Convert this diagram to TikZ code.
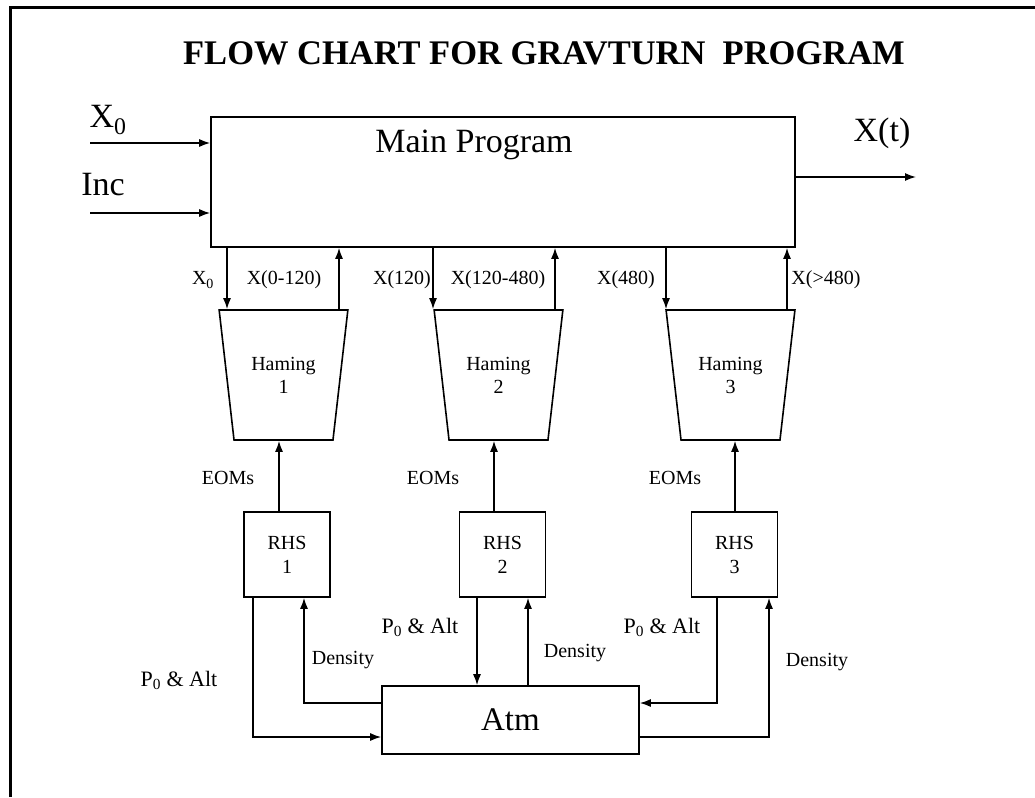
\documentclass[tikz,border=0pt]{standalone}
\usepackage{fontspec}
\setmainfont{Liberation Serif}
\usetikzlibrary{arrows.meta,positioning,shapes.geometric,calc}
\newcommand{\fs}[2]{\fontsize{#1}{#2}\selectfont}
\tikzset{blk/.style={draw,line width=1.6pt,inner sep=0pt},
 ham/.style={draw,line width=1.6pt,trapezium,trapezium angle=76,shape border rotate=180,trapezium stretches=true,minimum width=129pt,minimum height=130pt,align=center,font=\fs{20}{23}},
 rhs/.style={blk,minimum width=86pt,minimum height=85pt,align=center,font=\fs{20}{24}},
 flow/.style={-{Latex[length=11pt,width=8pt]},line width=1.5pt},
 big/.style={font=\fs{34}{40}},sm/.style={font=\fs{20}{24}},lab/.style={font=\fs{22}{26}}}

\begin{document}
\begin{tikzpicture}[x=1pt,y=-1pt]
\useasboundingbox (0,0) rectangle (1035,797);
\draw[line width=3pt] (10,797) -- (10,8) -- (1035,8);
\node[font=\bfseries\fs{34.5}{40}] (title) at (544,53) {FLOW CHART FOR GRAVTURN\ \ PROGRAM};
\node[blk,minimum width=584pt,minimum height=130pt] (main) at (503,182) {};
\node[big] (mainlbl) at (474,145) {Main Program};
\coordinate (x0in) at (90,143);\coordinate (incin) at (90,213);\coordinate (xout) at (916,177);
\node[big] (x0lbl) at (108,120) {X\textsubscript{0}};
\node[big] (inclbl) at (103,185) {Inc};
\node[big] (xtlbl) at (882,133) {X(t)};
\draw[flow] (x0in) -- (main.west |- x0in);
\draw[flow] (incin) -- (main.west |- incin);
\draw[flow] (main.east |- xout) -- (xout);
\node[ham] (ham1) at (283.5,375) {Haming\\1};
\node[ham] (ham2) at (498.5,375) {Haming\\2};
\node[ham] (ham3) at (730.5,375) {Haming\\3};
\draw[flow] (main.south -| 227,0) -- (ham1.north -| 227,0);
\draw[flow] (ham1.north -| 339,0) -- (main.south -| 339,0);
\draw[flow] (main.south -| 433,0) -- (ham2.north -| 433,0);
\draw[flow] (ham2.north -| 555,0) -- (main.south -| 555,0);
\draw[flow] (main.south -| 666,0) -- (ham3.north -| 666,0);
\draw[flow] (ham3.north -| 787,0) -- (main.south -| 787,0);
\node[sm] (lx0) at (203,280) {X\textsubscript{0}};
\node[sm] (lx1) at (284,280) {X(0-120)};
\node[sm] (lx2) at (402,280) {X(120)};
\node[sm] (lx3) at (498,280) {X(120-480)};
\node[sm] (lx4) at (626,280) {X(480)};
\node[sm] (lx5) at (826,280) {X(>480)};
\node[rhs] (rhs1) at (287,554.5) {RHS\\1};
\node[rhs] (rhs2) at (502.5,554.5) {RHS\\2};
\node[rhs] (rhs3) at (734.5,554.5) {RHS\\3};
\draw[flow] (rhs1.north -| 279,0) -- (ham1.south -| 279,0);
\draw[flow] (rhs2.north -| 494,0) -- (ham2.south -| 494,0);
\draw[flow] (rhs3.north -| 735,0) -- (ham3.south -| 735,0);
\node[sm] (eom1) at (228,478) {EOMs};
\node[sm] (eom2) at (433,478) {EOMs};
\node[sm] (eom3) at (675,478) {EOMs};
\node[blk,minimum width=257pt,minimum height=68pt,font=\fs{33}{40}] (atm) at (510.5,720) {Atm};
\draw[flow] (rhs1.south -| 253,0) |- (atm.west |- 0,737);
\draw[flow] (atm.west |- 0,703) -| (rhs1.south -| 304,0);
\draw[flow] (rhs2.south -| 477,0) -- (atm.north -| 477,0);
\draw[flow] (atm.north -| 528,0) -- (rhs2.south -| 528,0);
\draw[flow] (rhs3.south -| 717,0) |- (atm.east |- 0,703);
\draw[flow] (atm.east |- 0,737) -| (rhs3.south -| 769,0);
\node[lab] (pa1) at (179,680) {P\textsubscript{0} \& Alt};
\node[lab] (pa2) at (420,627) {P\textsubscript{0} \& Alt};
\node[lab] (pa3) at (662,627) {P\textsubscript{0} \& Alt};
\node[sm] (den1) at (343,660) {Density};
\node[sm] (den2) at (575,653) {Density};
\node[sm] (den3) at (817,662) {Density};
\end{tikzpicture}
\end{document}
